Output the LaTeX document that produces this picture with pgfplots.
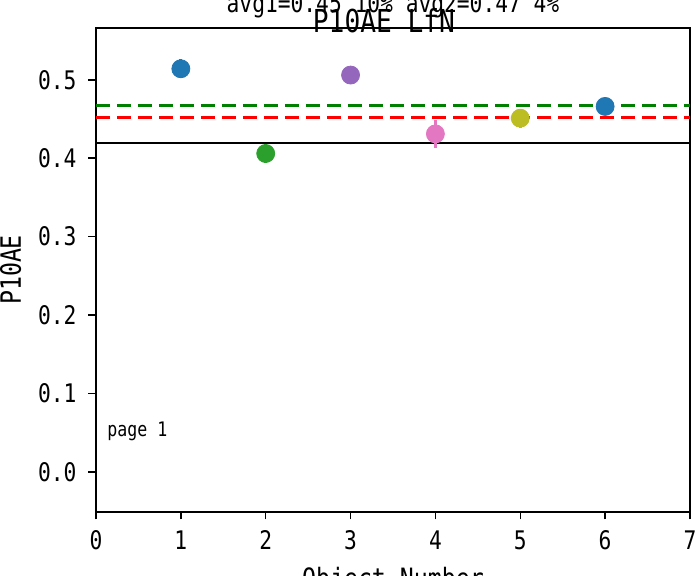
\documentclass[border=0pt]{standalone}
\usepackage{pgfplots}
\pgfplotsset{compat=1.18}
\usepackage{fontspec}
\setmainfont[FakeStretch=0.83]{DejaVu Sans Mono}
\definecolor{tabblue}{HTML}{1F77B4}
\definecolor{tabgreen}{HTML}{2CA02C}
\definecolor{tabpurple}{HTML}{9467BD}
\definecolor{tabpink}{HTML}{E377C2}
\definecolor{tabolive}{HTML}{BCBD22}
\definecolor{mplgreen}{HTML}{008000}
\pgfplotsset{mypt/.style={#1, only marks, mark=*, mark size=4.5pt, mark options={fill=#1},
  error bars/y dir=both, error bars/y explicit, error bars/error mark=none,
  error bars/error bar style={line width=1.5pt}}}
\begin{document}
\begin{tikzpicture}
\path[use as bounding box, clip] (-48pt,-32pt) rectangle (300.5pt,256pt);
\begin{axis}[
  at={(0,0)}, anchor=south west,
  scale only axis, width=297pt, height=242pt,
  xmin=0, xmax=7, ymin=-0.051, ymax=0.566,
  xtick={0,1,...,7}, ytick={0,0.1,0.2,0.3,0.4,0.5},
  xtick pos=left, ytick pos=left,
  /pgf/number format/assume math mode=true,
  tick align=outside, major tick length=3.75pt,
  tick style={black, line width=0.75pt},
  axis line style={line width=0.75pt},
  ticklabel style={font=\fontsize{12.8}{14}\selectfont},
  yticklabel style={xshift=-2.5pt, /pgf/number format/.cd, fixed, fixed zerofill, precision=1},
  xticklabel style={yshift=-2pt},
  label style={font=\fontsize{14}{16}\selectfont},
  xlabel={Object Number}, ylabel={P10AE},
  xlabel shift=2pt, ylabel shift=1.5pt,
  clip=false,
]
\addplot[mplgreen, line width=1.5pt, dash pattern=on 7pt off 3.5pt] coordinates {(0,0.467) (7,0.467)};
\addplot[red, line width=1.5pt, dash pattern=on 7pt off 3.5pt] coordinates {(0,0.452) (7,0.452)};
\addplot[black, line width=1pt] coordinates {(0,0.420) (7,0.420)};
\addplot[mypt=tabblue] coordinates {(1,0.514) +- (0,0.012)};
\addplot[mypt=tabgreen] coordinates {(2,0.406) +- (0,0.012)};
\addplot[mypt=tabpurple] coordinates {(3,0.506) +- (0,0.004)};
\addplot[mypt=tabpink] coordinates {(4,0.431) +- (0,0.018)};
\addplot[mypt=tabolive] coordinates {(5,0.451) +- (0,0.012)};
\addplot[mypt=tabblue] coordinates {(6,0.466) +- (0,0.004)};
\node[anchor=base west, inner sep=0pt, font=\fontsize{10}{12}\selectfont] at (axis cs:0.13,0.045) {page 1};
\node[anchor=base, font=\fontsize{15.8}{18}\selectfont, xshift=-4.5pt, yshift=-2.5pt] at (rel axis cs:0.5,1) {P10AE LfN};
\node[anchor=base, font=\fontsize{12.8}{14}\selectfont, yshift=7.5pt] at (rel axis cs:0.5,1) {avg1=0.45 10\% avg2=0.47 4\%};
\end{axis}
\end{tikzpicture}
\end{document}
